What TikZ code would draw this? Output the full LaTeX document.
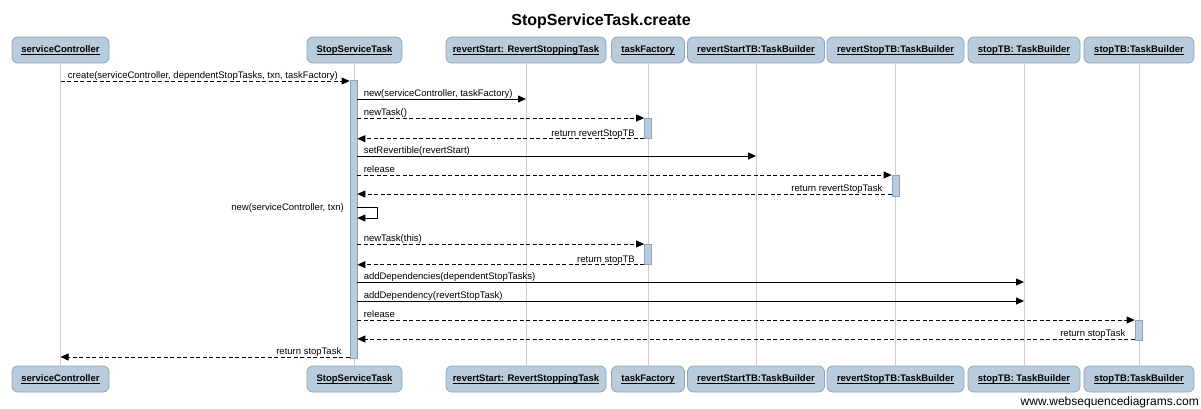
\documentclass[tikz,border=0pt]{standalone}
\usepackage{fontspec}
\setmainfont{Liberation Sans}
\usetikzlibrary{arrows.meta}
\definecolor{boxfill}{RGB}{185,204,220}
\definecolor{boxline}{RGB}{140,162,190}
\definecolor{lifegray}{RGB}{205,205,205}
\newcommand\hul[1]{\leavevmode\setbox0=\hbox{#1}\rlap{\rule[-2.4pt]{\wd0}{0.9pt}}\box0}
\begin{document}
\begin{tikzpicture}[x=1pt,y=-1pt,
  head/.style={draw=boxline,fill=boxfill,rounded corners=6pt,line width=0.8pt,
    minimum height=26pt,inner sep=0pt,font=\fontsize{9.5}{11}\selectfont\bfseries},
  life/.style={draw=lifegray,line width=0.9pt},
  actbar/.style={draw=boxline,fill=boxfill,line width=0.7pt,minimum width=7pt,inner sep=0pt},
  msgsolid/.style={draw=black,line width=0.8pt,-{Triangle[length=8pt,width=7pt]}},
  msgdash/.style={msgsolid,dash pattern=on 4pt off 2.5pt},
  lbl/.style={font=\fontsize{9.5}{11}\selectfont,inner sep=0pt},
]
\useasboundingbox (0,0) rectangle (1201,409);
\node[font=\fontsize{16}{18}\selectfont\bfseries] (title) at (601,21) {StopServiceTask.create};
% heads
\newcommand{\heads}[2]{%
\node[head,minimum width=97pt] (sc#1) at (60.5,#2) {\hul{serviceController}};
\node[head,minimum width=95pt] (st#1) at (354.5,#2) {\hul{StopServiceTask}};
\node[head,minimum width=160pt] (rs#1) at (526,#2) {\hul{revertStart: RevertStoppingTask}};
\node[head,minimum width=73pt] (tf#1) at (648,#2) {\hul{taskFactory}};
\node[head,minimum width=137pt] (rstb#1) at (756,#2) {\hul{revertStartTB:TaskBuilder}};
\node[head,minimum width=137pt] (rptb#1) at (895.5,#2) {\hul{revertStopTB:TaskBuilder}};
\node[head,minimum width=112pt] (stb#1) at (1024,#2) {\hul{stopTB: TaskBuilder}};
\node[head,minimum width=110pt] (stbb#1) at (1139,#2) {\hul{stopTB:TaskBuilder}};
}
\heads{t}{50}
\heads{b}{379}
% lifelines
\foreach \n in {sc,st,rs,tf,rstb,rptb,stb,stbb}{
  \draw[life] (\n t.south) -- (\n b.north);
}
% activation bars
\node[actbar,minimum height=278pt,anchor=north] (a0) at (353.5,80) {};
\node[actbar,minimum height=20pt,anchor=north] (a1) at (648,118) {};
\node[actbar,minimum height=21pt,anchor=north] (a2) at (895.5,175) {};
\node[actbar,minimum height=20pt,anchor=north] (a3) at (648,244) {};
\node[actbar,minimum height=20pt,anchor=north] (a4) at (1138.5,320) {};
% helper coordinates
\coordinate (y81) at (0,81);
\coordinate (y99) at (0,99);
\coordinate (y156) at (0,156);
\coordinate (y194) at (0,194);
\coordinate (y207) at (0,207);
\coordinate (y218) at (0,218);
\coordinate (y282) at (0,282);
\coordinate (y301) at (0,301);
\coordinate (y339) at (0,339);
\coordinate (y357) at (0,357);
\coordinate (sr) at (377,0);
% messages
\draw[msgdash] (sct.south |- y81) -- (a0.west |- y81)
  node[lbl,pos=0,anchor=base west,xshift=7pt,yshift=2.5pt] {create(serviceController, dependentStopTasks, txn, taskFactory)};
\draw[msgsolid] (a0.east |- y99) -- (rst.south |- y99)
  node[lbl,pos=0,anchor=base west,xshift=6pt,yshift=2.5pt] {new(serviceController, taskFactory)};
\draw[msgdash] (a0.east |- a1.north) -- (a1.north west)
  node[lbl,pos=0,anchor=base west,xshift=6pt,yshift=2.5pt] {newTask()};
\draw[msgdash] (a1.south west) -- (a0.east |- a1.south)
  node[lbl,pos=0,anchor=base east,xshift=-9pt,yshift=2.5pt] {return revertStopTB};
\draw[msgsolid] (a0.east |- y156) -- (rstbt.south |- y156)
  node[lbl,pos=0,anchor=base west,xshift=6pt,yshift=2.5pt] {setRevertible(revertStart)};
\draw[msgdash] (a0.east |- a2.north) -- (a2.north west)
  node[lbl,pos=0,anchor=base west,xshift=6pt,yshift=2.5pt] {release};
\draw[msgdash] (a2.west |- y194) -- (a0.east |- y194)
  node[lbl,pos=0,anchor=base east,xshift=-9pt,yshift=2.5pt] {return revertStopTask};
\draw[msgsolid] (a0.east |- y207) -- (sr |- y207) -- (sr |- y218) -- (a0.east |- y218);
\node[lbl,anchor=east] (selfl) at (344,208) {new(serviceController, txn)};
\draw[msgdash] (a0.east |- a3.north) -- (a3.north west)
  node[lbl,pos=0,anchor=base west,xshift=6pt,yshift=2.5pt] {newTask(this)};
\draw[msgdash] (a3.south west) -- (a0.east |- a3.south)
  node[lbl,pos=0,anchor=base east,xshift=-9pt,yshift=2.5pt] {return stopTB};
\draw[msgsolid] (a0.east |- y282) -- (stbt.south |- y282)
  node[lbl,pos=0,anchor=base west,xshift=6pt,yshift=2.5pt] {addDependencies(dependentStopTasks)};
\draw[msgsolid] (a0.east |- y301) -- (stbt.south |- y301)
  node[lbl,pos=0,anchor=base west,xshift=6pt,yshift=2.5pt] {addDependency(revertStopTask)};
\draw[msgdash] (a0.east |- a4.north) -- (a4.north west)
  node[lbl,pos=0,anchor=base west,xshift=6pt,yshift=2.5pt] {release};
\draw[msgdash] (a4.west |- y339) -- (a0.east |- y339)
  node[lbl,pos=0,anchor=base east,xshift=-9pt,yshift=2.5pt] {return stopTask};
\draw[msgdash] (a0.west |- y357) -- (sct.south |- y357)
  node[lbl,pos=0,anchor=base east,xshift=-8pt,yshift=2.5pt] {return stopTask};
% watermark
\node[font=\fontsize{12}{14}\selectfont,anchor=east,inner sep=0pt] (wm) at (1199,402) {www.websequencediagrams.com};
\end{tikzpicture}
\end{document}
